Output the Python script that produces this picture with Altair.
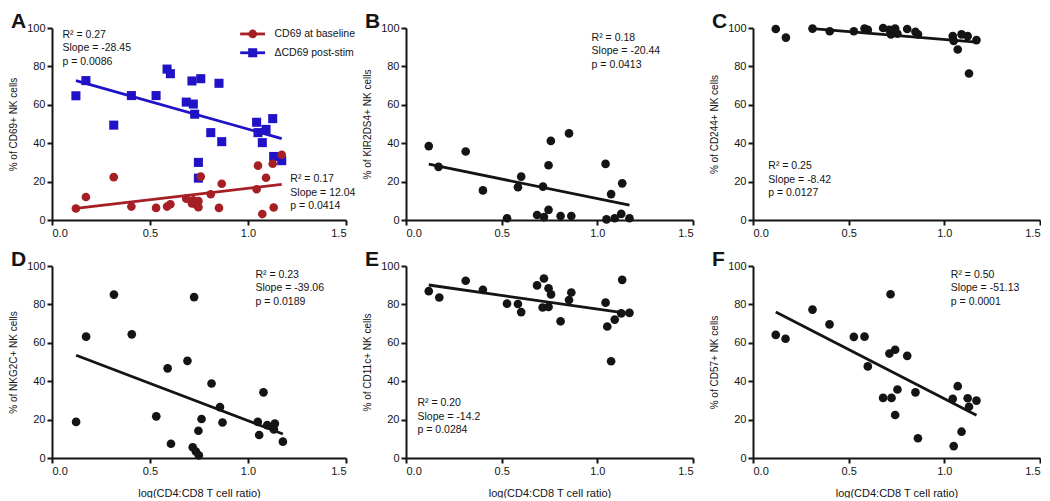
import altair as alt
import pandas as pd

FONT = "Liberation Sans"
INK = "#141414"
RED = "#a51f24"
BLUE = "#2012c6"

X_TICKS = [0.0, 0.5, 1.0, 1.5]
Y_TICKS = [0, 20, 40, 60, 80, 100]
X_TITLE = "log(CD4:CD8 T cell ratio)"
SERIES = ["CD69 at baseline", "ΔCD69 post-stim"]

# ---------------- Panel A ----------------
a_base_x = [0.122, 0.173, 0.315, 0.405, 0.531, 0.587, 0.604, 0.685, 0.714, 0.721, 0.735, 0.747,
            0.747, 0.759, 0.810, 0.852, 0.866, 1.044, 1.051, 1.073, 1.092, 1.126, 1.131, 1.172]
a_base_y = [6.0, 12.0, 22.3, 7.0, 6.3, 7.0, 8.2, 11.1, 8.6, 10.3, 8.1, 9.8,
            6.7, 22.6, 13.4, 6.3, 18.9, 16.0, 28.3, 3.1, 22.0, 29.3, 6.5, 34.0]
a_stim_x = [0.122, 0.173, 0.315, 0.405, 0.531, 0.587, 0.604, 0.685, 0.714, 0.721, 0.728, 0.747,
            0.747, 0.759, 0.810, 0.852, 0.866, 1.044, 1.051, 1.073, 1.092, 1.126, 1.131, 1.172]
a_stim_y = [64.7, 72.6, 49.4, 64.8, 64.8, 78.6, 76.2, 61.4, 72.4, 60.4, 55.1, 30.0,
            21.8, 73.6, 45.5, 71.2, 40.8, 50.9, 45.5, 40.3, 47.2, 52.8, 33.1, 30.9]
a_base_fit_x = [0.122, 1.172]
a_base_fit_y = [6.0, 18.6]
a_stim_fit_x = [0.122, 1.172]
a_stim_fit_y = [72.6, 42.4]
a_stats_stim = "R² = 0.27\nSlope = -28.45\np = 0.0086"
a_stats_base = "R² = 0.17\nSlope = 12.04\np = 0.0414"

# ---------------- Panel B ----------------
b_x = [0.119, 0.170, 0.312, 0.402, 0.528, 0.585, 0.602, 0.685, 0.716, 0.721, 0.745, 0.745,
       0.757, 0.808, 0.852, 0.864, 1.043, 1.048, 1.072, 1.091, 1.125, 1.130, 1.168]
b_y = [38.5, 27.7, 35.7, 15.4, 0.9, 17.1, 22.6, 2.6, 17.4, 1.5, 28.5, 5.3,
       41.2, 2.1, 45.1, 2.1, 29.2, 0.3, 13.5, 0.9, 3.2, 19.1, 0.9]
b_fit_x = [0.119, 1.168]
b_fit_y = [29.1, 7.7]
b_stats = "R² = 0.18\nSlope = -20.44\np = 0.0413"

# ---------------- Panel C ----------------
c_x = [0.119, 0.172, 0.311, 0.401, 0.527, 0.583, 0.600, 0.680, 0.713, 0.721, 0.743, 0.743,
       0.755, 0.806, 0.849, 0.862, 1.044, 1.049, 1.070, 1.090, 1.122, 1.129, 1.168]
c_y = [99.5, 95.0, 99.7, 98.3, 98.3, 99.7, 99.0, 100.0, 99.0, 96.7, 99.7, 97.5,
       97.0, 99.5, 98.0, 96.7, 95.8, 93.3, 88.8, 96.7, 95.8, 76.3, 93.7]
c_fit_x = [0.311, 1.168]
c_fit_y = [99.7, 92.6]
c_stats = "R² = 0.25\nSlope = -8.42\np = 0.0127"

# ---------------- Panel D ----------------
d_x = [0.123, 0.174, 0.316, 0.407, 0.532, 0.590, 0.607, 0.691, 0.718, 0.725, 0.734, 0.747,
       0.749, 0.763, 0.814, 0.857, 0.870, 1.050, 1.057, 1.079, 1.098, 1.132, 1.137, 1.178]
d_y = [18.8, 63.2, 85.1, 64.4, 21.7, 46.7, 7.4, 50.6, 5.6, 83.8, 3.4, 14.2,
       1.4, 20.3, 38.8, 26.5, 18.5, 18.8, 12.0, 34.2, 17.1, 14.9, 17.9, 8.5]
d_fit_x = [0.123, 1.178]
d_fit_y = [53.5, 12.5]
d_stats = "R² = 0.23\nSlope = -39.06\np = 0.0189"

# ---------------- Panel E ----------------
e_x = [0.119, 0.174, 0.312, 0.402, 0.528, 0.585, 0.602, 0.685, 0.721, 0.714, 0.745, 0.745,
       0.758, 0.808, 0.852, 0.864, 1.043, 1.052, 1.072, 1.091, 1.125, 1.130, 1.168]
e_y = [86.9, 83.6, 92.3, 87.6, 80.4, 80.2, 76.0, 89.9, 93.5, 78.4, 88.4, 78.7,
       85.2, 71.2, 82.3, 86.2, 80.9, 68.5, 50.4, 72.1, 75.3, 92.8, 75.6]
e_fit_x = [0.119, 1.168]
e_fit_y = [90.1, 75.2]
e_stats = "R² = 0.20\nSlope = -14.2\np = 0.0284"

# ---------------- Panel F ----------------
f_x = [0.119, 0.170, 0.311, 0.400, 0.527, 0.583, 0.600, 0.680, 0.713, 0.719, 0.724, 0.743,
       0.743, 0.755, 0.806, 0.849, 0.862, 1.044, 1.049, 1.070, 1.090, 1.122, 1.129, 1.168]
f_y = [64.1, 62.1, 77.3, 69.6, 63.1, 63.2, 47.7, 31.3, 54.4, 85.3, 31.3, 56.4,
       22.4, 35.7, 53.2, 34.2, 10.3, 30.8, 6.2, 37.4, 13.7, 31.1, 26.7, 29.9]
f_fit_x = [0.119, 1.168]
f_fit_y = [76.1, 22.3]
f_stats = "R² = 0.50\nSlope = -51.13\np = 0.0001"

H = 192
ANN_SIZE = 10.5
XS = alt.Scale(domain=[0, 1.5], nice=False, zero=False)
YS = alt.Scale(domain=[0, 100], nice=False)


def xenc(show_title, datum=None):
    kw = dict(scale=XS, axis=alt.Axis(values=X_TICKS, format=".1f"),
              title=X_TITLE if show_title else None)
    if datum is None:
        return alt.X("x:Q", **kw)
    return alt.X(datum=datum, **kw)


def yenc(ytitle, datum=None):
    kw = dict(scale=YS, axis=alt.Axis(values=Y_TICKS), title=ytitle)
    if datum is None:
        return alt.Y("y:Q", **kw)
    return alt.Y(datum=datum, **kw)


def scatter(xs, ys, color, shape, size, show_xt, ytitle):
    df = pd.DataFrame({"x": xs, "y": ys})
    return alt.Chart(df).mark_point(filled=True, opacity=1, shape=shape, size=size,
                                    color=color).encode(x=xenc(show_xt), y=yenc(ytitle))


def fit(xs, ys, color, show_xt, ytitle):
    df = pd.DataFrame({"x": xs, "y": ys})
    return alt.Chart(df).mark_line(color=color, strokeWidth=2.8).encode(
        x=xenc(show_xt), y=yenc(ytitle))


def stats_text(txt, x, y, show_xt, ytitle):
    df = pd.DataFrame({"t": [txt]})
    return alt.Chart(df).mark_text(align="left", baseline="alphabetic", lineBreak="\n",
                                   lineHeight=13.5, font=FONT, fontSize=ANN_SIZE,
                                   color=INK).encode(
        x=xenc(show_xt, x), y=yenc(ytitle, y), text="t:N")


def letter_mark(letter):
    df = pd.DataFrame({"t": [letter]})
    return alt.Chart(df).mark_text(align="left", baseline="alphabetic", font=FONT,
                                   fontSize=21, fontWeight="bold", color=INK).encode(
        x=alt.value(-41), y=alt.value(0), text="t:N")


def simple_panel(letter, ytitle, xs, ys, fx, fy, stats, sx, sy, width, show_xt):
    return alt.layer(
        scatter(xs, ys, INK, "circle", 75, show_xt, ytitle),
        fit(fx, fy, INK, show_xt, ytitle),
        stats_text(stats, sx, sy, show_xt, ytitle),
        letter_mark(letter),
    ).properties(width=width, height=H)


# Panel A with two series and a hand-placed legend
ya = "% of CD69+ NK cells"
legend_layers = []
for name, col, shape, ly in [(SERIES[0], RED, "circle", 96.9), (SERIES[1], BLUE, "square", 87.1)]:
    one = pd.DataFrame({"t": [name]})
    legend_layers.append(alt.Chart(one).mark_rule(color=col, strokeWidth=2.8).encode(
        x=xenc(False, 0.96), x2=alt.X2(datum=1.087), y=yenc(ya, ly)))
    legend_layers.append(alt.Chart(one).mark_point(filled=True, opacity=1, shape=shape,
                                                   size=75 if shape == "circle" else 82,
                                                   color=col).encode(
        x=xenc(False, 1.024), y=yenc(ya, ly)))
    legend_layers.append(alt.Chart(one).mark_text(align="left", baseline="middle", font=FONT,
                                                  fontSize=ANN_SIZE, color=INK).encode(
        x=xenc(False, 1.135), y=yenc(ya, ly), text="t:N"))

panel_a = alt.layer(
    scatter(a_stim_x, a_stim_y, BLUE, "square", 82, False, ya),
    scatter(a_base_x, a_base_y, RED, "circle", 75, False, ya),
    fit(a_stim_fit_x, a_stim_fit_y, BLUE, False, ya),
    fit(a_base_fit_x, a_base_fit_y, RED, False, ya),
    stats_text(a_stats_stim, 0.053, 94.8, False, ya),
    stats_text(a_stats_base, 1.216, 19.7, False, ya),
    *legend_layers,
    letter_mark("A"),
).properties(width=294, height=H)

panel_b = simple_panel("B", "% of KIR2DS4+ NK cells", b_x, b_y, b_fit_x, b_fit_y,
                       b_stats, 0.97, 93.3, 287, False)
panel_c = simple_panel("C", "% of CD244+ NK cells", c_x, c_y, c_fit_x, c_fit_y,
                       c_stats, 0.08, 26.4, 287, False)
panel_d = simple_panel("D", "% of NKG2C+ NK cells", d_x, d_y, d_fit_x, d_fit_y,
                       d_stats, 1.038, 93.8, 294, True)
panel_e = simple_panel("E", "% of CD11c+ NK cells", e_x, e_y, e_fit_x, e_fit_y,
                       e_stats, 0.06, 26.9, 287, True)
panel_f = simple_panel("F", "% of CD57+ NK cells", f_x, f_y, f_fit_x, f_fit_y,
                       f_stats, 1.034, 93.8, 287, True)

chart = alt.concat(
    panel_a, panel_b, panel_c, panel_d, panel_e, panel_f,
    columns=3, spacing={"row": 46, "column": 60}, bounds="flush", align="each",
).properties(
    padding={"top": 3, "left": 0, "right": 0, "bottom": 0}
).configure_axis(
    grid=False, domainColor=INK, domainWidth=2, tickColor=INK, tickWidth=2, tickSize=5,
    labelFont=FONT, labelFontSize=11, labelColor=INK, labelPadding=2,
    titleFont=FONT, titleFontSize=10, titleFontWeight="normal", titleColor=INK,
).configure_axisY(titlePadding=8).configure_axisX(titlePadding=11, titleFontSize=11
).configure_view(strokeWidth=0)

chart.save("out.html", embed_options={"renderer": "svg", "actions": False})
